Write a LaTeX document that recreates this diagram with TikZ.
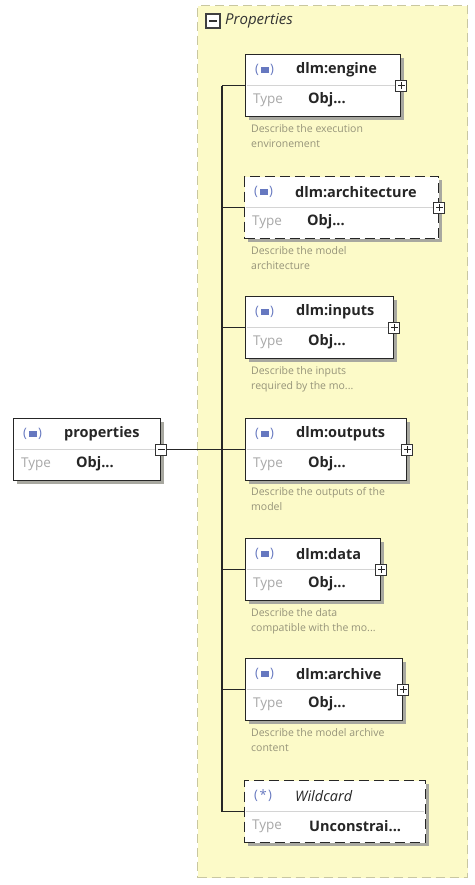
\documentclass[tikz,border=0pt]{standalone}
\usepackage{fontspec}
\setmainfont{Open Sans}
\definecolor{grpfill}{HTML}{FCFAC8}
\definecolor{grpdraw}{HTML}{C9C7A0}
\definecolor{shadowc}{HTML}{A8A8A0}
\definecolor{descc}{HTML}{96947A}
\definecolor{typec}{HTML}{A8A8A8}
\definecolor{iconc}{HTML}{6678C0}
\definecolor{divc}{HTML}{D4D4D4}
\tikzset{
 ebox/.style={draw=black!85, line width=1.4pt, fill=white, minimum height=62pt, inner sep=0pt, anchor=north west},
 dashbox/.style={dash pattern=on 10pt off 5pt},
 ttl/.style={font=\fontsize{14.5}{16}\selectfont\bfseries, text=black!85, anchor=west, inner sep=0pt},
 iconlbl/.style={font=\fontsize{13}{15}\selectfont, text=iconc, anchor=west, inner sep=0pt},
 typelbl/.style={font=\fontsize{13.5}{15}\selectfont, text=typec, anchor=west, inner sep=0pt},
 typeval/.style={font=\fontsize{14.5}{16}\selectfont\bfseries, text=black!85, anchor=west, inner sep=0pt},
 desc/.style={font=\fontsize{10.5}{15}\selectfont, text=descc, anchor=north west, align=left, inner sep=0pt},
 expbox/.style={draw=black!80, line width=1pt, fill=white, minimum size=11pt, inner sep=0pt},
 conn/.style={draw=black!85, line width=1.2pt},
}
% #1 name, #2 x, #3 y, #4 width, #5 extra style, #6 title, #7 type value, #8 type value offset, #9 icon inner
\newcommand{\elembox}[9]{%
 \fill[shadowc] ({#2+4},{#3+4}) rectangle ({#2+#4+4},{#3+66});
 \node[ebox,#5,minimum width=#4pt] (#1) at (#2,#3) {};
 \draw[divc,line width=0.8pt] ({#2+1.5},{#3+31}) -- ({#2+#4-1.5},{#3+31});
 \node[iconlbl] (#1-icon) at ({#2+10},{#3+16}) {(\hspace{1.5pt}#9\hspace{1.5pt})};
 \node[ttl] (#1-title) at ({#2+51},{#3+16}) {#6};
 \node[typelbl] (#1-type) at ({#2+8},{#3+46}) {Type};
 \node[typeval] (#1-val) at ({#2+#8},{#3+46}) {#7};
}
\newcommand{\objicon}{\textcolor{iconc}{\rule[0.15ex]{8pt}{6pt}}}
\newcommand{\plusexp}[1]{%
 \node[expbox] (#1-exp) at (#1.east) {};
 \draw[black!85,line width=1pt] ([xshift=-3.5pt]#1-exp.center) -- ([xshift=3.5pt]#1-exp.center);
 \draw[black!85,line width=1pt] ([yshift=-3.5pt]#1-exp.center) -- ([yshift=3.5pt]#1-exp.center);
}
\begin{document}
\begin{tikzpicture}[x=1pt,y=-1pt]
\useasboundingbox[fill=white] (0,0) rectangle (474,885);
% group
\node[draw=grpdraw, fill=grpfill, line width=1.2pt, dash pattern=on 9pt off 5pt, minimum width=270pt, minimum height=872pt, anchor=north west, inner sep=0pt] (grp) at (197,5) {};
\node[draw=black!75, line width=1.2pt, fill=white, minimum size=14pt, inner sep=0pt] (grp-exp) at (213,21) {};
\draw[black!80,line width=1.2pt] ([xshift=-4pt]grp-exp.center) -- ([xshift=4pt]grp-exp.center);
\node[font=\fontsize{15}{17}\selectfont\itshape, text=black!80, anchor=west, inner sep=0pt] (grp-title) at (225,21) {Properties};
% root
\elembox{root}{13}{418}{147}{}{properties}{Obj...}{63}{\objicon}
\node[expbox] (root-exp) at (root.east) {};
\draw[black!85,line width=1pt] ([xshift=-3.5pt]root-exp.center) -- ([xshift=3.5pt]root-exp.center);
% children
\elembox{engine}{245}{54}{155}{}{dlm:engine}{Obj...}{63}{\objicon}
\elembox{arch}{244}{176}{194}{dashbox}{dlm:architecture}{Obj...}{63}{\objicon}
\elembox{inputs}{245}{296}{148}{}{dlm:inputs}{Obj...}{63}{\objicon}
\elembox{outputs}{245}{418}{161}{}{dlm:outputs}{Obj...}{63}{\objicon}
\elembox{data}{245}{538}{135}{}{dlm:data}{Obj...}{63}{\objicon}
\elembox{archive}{245}{658}{157}{}{dlm:archive}{Obj...}{63}{\objicon}
\elembox{wild}{244}{780}{181}{dashbox}{\mdseries\itshape Wildcard}{Unconstrai...}{65}{*}
\plusexp{engine}
\plusexp{arch}
\plusexp{inputs}
\plusexp{outputs}
\plusexp{data}
\plusexp{archive}
% descriptions
\node[desc] (engine-desc) at (251,124) {Describe the execution\\environement};
\node[desc] (arch-desc) at (251,246) {Describe the model\\architecture};
\node[desc] (inputs-desc) at (251,366) {Describe the inputs\\required by the mo...};
\node[desc] (outputs-desc) at (251,487) {Describe the outputs of the\\model};
\node[desc] (data-desc) at (251,608) {Describe the data\\compatible with the mo...};
\node[desc] (archive-desc) at (251,728) {Describe the model archive\\content};
% connectors
\coordinate (sp) at (222,0);
\draw[conn] (sp |- engine.west) -- (sp |- wild.west);
\draw[conn] (root-exp.east) -- (outputs.west);
\foreach \n in {engine,arch,inputs,data,archive,wild}{
  \draw[conn] (sp |- \n.west) -- (\n.west);
}
\end{tikzpicture}
\end{document}
